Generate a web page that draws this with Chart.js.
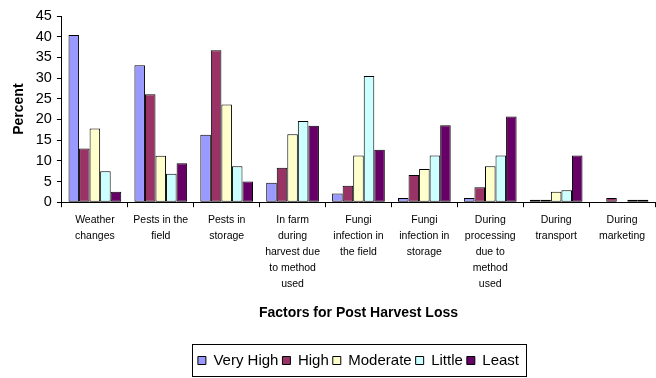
<!DOCTYPE html>
<html>
<head>
<meta charset="utf-8">
<script src="https://cdn.jsdelivr.net/npm/chart.js@4/dist/chart.umd.min.js"></script>
<style>
  html, body { margin: 0; padding: 0; background: #fff; }
  #wrap { width: 656px; height: 378px; position: relative; }
</style>
</head>
<body>
<div id="wrap"><canvas id="c" width="656" height="378"></canvas></div>
<script>
// Factors for post harvest loss (percent of respondents)
const categories = [
  ["Weather", "changes"],
  ["Pests in the", "field"],
  ["Pests in", "storage"],
  ["In farm", "during", "harvest due", "to method", "used"],
  ["Fungi", "infection in", "the field"],
  ["Fungi", "infection in", "storage"],
  ["During", "processing", "due to", "method", "used"],
  ["During", "transport"],
  ["During", "marketing"]
];
const veryHigh = [40.4, 33.1, 16.3, 4.7, 2.1, 1.0, 1.0, 0.6, 0];
const high     = [13.0, 26.1, 36.7, 8.3, 4.0, 6.6, 3.6, 0.6, 1.0];
const moderate = [17.8, 11.2, 23.6, 16.4, 11.3, 8.0, 8.7, 2.5, 0];
const little   = [7.5, 6.9, 8.7, 19.6, 30.5, 11.3, 11.3, 2.9, 0.6];
const least    = [2.5, 9.4, 5.0, 18.5, 12.7, 18.6, 20.7, 11.3, 0.6];
const yTicks = [0, 5, 10, 15, 20, 25, 30, 35, 40, 45];

const seriesNames = ["Very High", "High", "Moderate", "Little", "Least"];
const seriesColors = ["#9999FF", "#993366", "#FFFFCC", "#CCFFFF", "#660066"];
const seriesData = [veryHigh, high, moderate, little, least];

// Centre the legend under the plot area and draw a frame around its items
const legendFrame = {
  id: "legendFrame",
  afterLayout(chart) {
    const lg = chart.legend;
    if (!lg) return;
    lg.left = chart.chartArea.left;
    lg.right = chart.chartArea.right;
    lg.width = lg.right - lg.left;
  },
  afterDraw(chart) {
    const lg = chart.legend;
    if (!lg || !lg.legendHitBoxes || !lg.legendHitBoxes.length) return;
    const boxes = lg.legendHitBoxes;
    const first = boxes[0];
    const last = boxes[boxes.length - 1];
    const left = Math.round(first.left - 6) + 0.5;
    const right = Math.round(last.left + last.width + 7) + 0.5;
    const cy = first.top + first.height / 2;
    const top = Math.round(cy - 17) + 0.5;
    const ctx = chart.ctx;
    ctx.save();
    ctx.strokeStyle = "#000";
    ctx.lineWidth = 1;
    ctx.strokeRect(left, top, right - left, 32);
    ctx.restore();
  }
};

new Chart(document.getElementById("c"), {
  type: "bar",
  data: {
    labels: categories,
    datasets: seriesNames.map((name, i) => ({
      label: name,
      data: seriesData[i],
      backgroundColor: seriesColors[i],
      borderColor: "#000",
      borderWidth: 1,
      borderSkipped: false,
      categoryPercentage: 0.8,
      barPercentage: 1.0
    }))
  },
  options: {
    responsive: false,
    animation: false,
    layout: { padding: { left: 11, right: 1, top: 16, bottom: 0 } },
    plugins: {
      tooltip: { enabled: false },
      legend: {
        position: "bottom",
        labels: {
          boxWidth: 8,
          boxHeight: 8,
          padding: 4,
          color: "#000",
          font: { family: "Liberation Sans, Arial, sans-serif", size: 15 }
        }
      }
    },
    scales: {
      x: {
        grid: {
          offset: true,
          drawOnChartArea: false,
          drawTicks: true,
          tickLength: 5,
          color: "#000"
        },
        border: { color: "#000", width: 1 },
        ticks: {
          maxRotation: 0,
          autoSkip: false,
          color: "#000",
          padding: 5,
          font: { family: "Liberation Sans, Arial, sans-serif", size: 10.5, lineHeight: "16px" }
        },
        title: {
          display: true,
          text: "Factors for Post Harvest Loss",
          color: "#000",
          padding: { top: 8, bottom: 27 },
          font: { family: "Liberation Sans, Arial, sans-serif", size: 14, weight: "bold" }
        }
      },
      y: {
        min: 0,
        max: 45,
        afterBuildTicks(axis) { axis.ticks = yTicks.map(v => ({ value: v })); },
        grid: {
          drawOnChartArea: false,
          drawTicks: true,
          tickLength: 5,
          color: "#000"
        },
        border: { color: "#000", width: 1 },
        ticks: {
          autoSkip: false,
          color: "#000",
          padding: 5,
          font: { family: "Liberation Sans, Arial, sans-serif", size: 14.5 }
        },
        title: {
          display: true,
          text: "Percent",
          color: "#000",
          padding: { top: 0, bottom: 3 },
          font: { family: "Liberation Sans, Arial, sans-serif", size: 14, weight: "bold" }
        }
      }
    }
  },
  plugins: [legendFrame]
});
</script>
</body>
</html>
